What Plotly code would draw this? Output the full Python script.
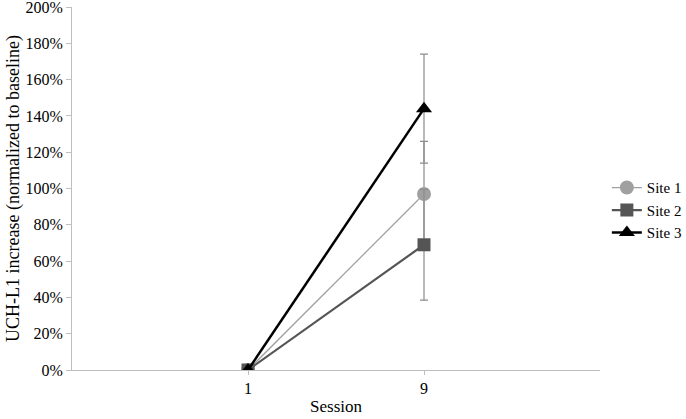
import plotly.graph_objects as go

sessions = ["1", "9"]
site1 = [0, 97]
site2 = [0, 69]
site3 = [0, 144]
site1_err = [0, 29]
site2_err = [0, 30.5]
site3_err = [0, 30]
yticks = [0, 20, 40, 60, 80, 100, 120, 140, 160, 180, 200]

xpos = list(range(len(sessions)))

fig = go.Figure()
series = [
    ("Site 1", site1, site1_err, "#a0a0a0", "circle", 1.3, 14),
    ("Site 2", site2, site2_err, "#555555", "square", 2.2, 13),
    ("Site 3", site3, site3_err, "#000000", "triangle-up", 2.5, 14),
]
for name, vals, err, col, sym, lw, ms in series:
    fig.add_trace(go.Scatter(
        x=xpos, y=vals, name=name, mode="lines+markers",
        line=dict(color=col, width=lw),
        marker=dict(symbol=sym, size=ms, color=col),
        error_y=dict(type="data", array=err, visible=True, color="#8c8c8c",
                     thickness=1.2, width=4),
    ))

font_family = "Liberation Serif, Times New Roman, serif"
fig.update_layout(
    width=686, height=419,
    margin=dict(l=72, r=86, t=7, b=49, autoexpand=False),
    plot_bgcolor="white", paper_bgcolor="white",
    font=dict(family=font_family, size=16, color="#000000"),
    showlegend=True,
    legend=dict(x=1.013, y=0.44, xanchor="left", yanchor="middle",
                font=dict(size=15), tracegroupgap=0, itemwidth=30,
                bgcolor="rgba(0,0,0,0)"),
    xaxis=dict(range=[-1, 2], tickvals=xpos, ticktext=sessions,
               showgrid=False, zeroline=False, showline=True,
               linecolor="#bfbfbf", linewidth=1, ticks="outside",
               ticklen=4, tickcolor="#bfbfbf",
               title=dict(text="Session", font=dict(size=17), standoff=3),
               tickfont=dict(size=16)),
    yaxis=dict(range=[0, 200], tickvals=yticks,
               ticktext=[f"{v}%" for v in yticks],
               ticklabeloverflow="allow",
               showgrid=False, zeroline=False, showline=True,
               linecolor="#bfbfbf", linewidth=1, ticks="outside",
               ticklen=5, tickcolor="#bfbfbf",
               title=dict(text="UCH-L1 increase (normalized to baseline)",
                          font=dict(size=18), standoff=1),
               tickfont=dict(size=16)),
)
fig.write_html("out.html", config={"displayModeBar": False},
               post_script="document.body.style.margin='0';")
